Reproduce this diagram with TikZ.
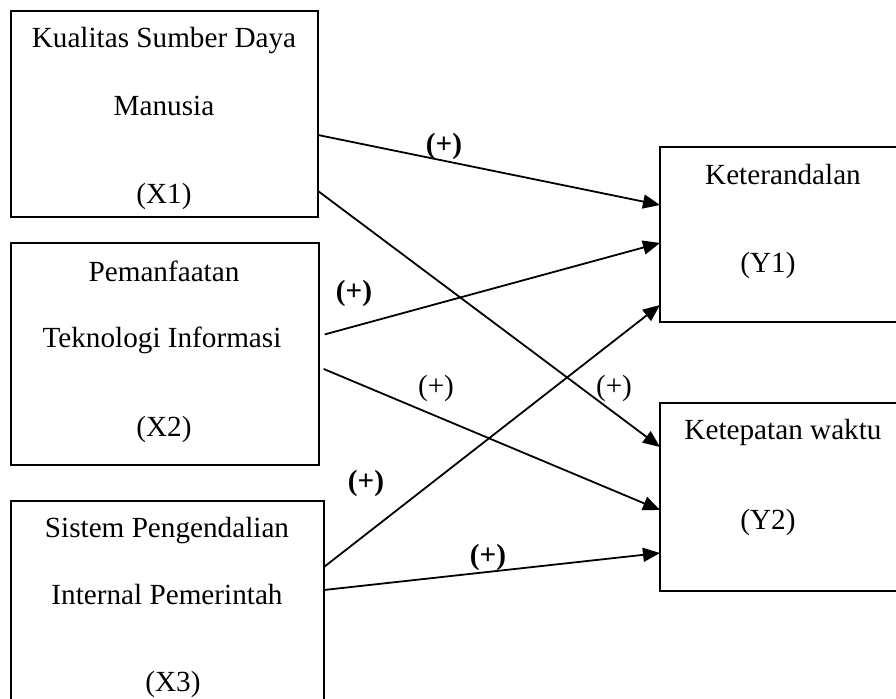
\documentclass[tikz,border=0pt]{standalone}
\usepackage{fontspec}
\setmainfont{Liberation Serif}
\usetikzlibrary{arrows.meta}
\begin{document}
\begin{tikzpicture}[x=0.5pt,y=-0.5pt,
    every node/.style={font=\fontsize{14.6}{17}\selectfont},
    box/.style={draw, line width=1.1pt, inner sep=0pt, outer sep=0pt},
    txt/.style={anchor=base, inner sep=0pt},
    link/.style={line width=0.9pt, -{Triangle[length=8.5pt,width=7pt]}},
    sign/.style={inner sep=0pt},
    signb/.style={inner sep=0pt, font=\fontsize{14.6}{17}\selectfont\bfseries}]
    \useasboundingbox (0,0) rectangle (896,699);
    % boxes
    \node[box, minimum width=153.5pt, minimum height=103pt] (x1) at (164.5,114) {};
    \node[box, minimum width=154pt, minimum height=111pt] (x2) at (165,354) {};
    \node[box, minimum width=156.5pt, minimum height=109pt] (x3) at (167.5,610) {};
    \node[box, minimum width=135pt, minimum height=87.5pt] (y1) at (795,234.5) {};
    \node[box, minimum width=135pt, minimum height=94pt] (y2) at (795,497) {};
    % box texts
    \node[txt] (x1a) at (164,48) {Kualitas Sumber Daya};
    \node[txt] (x1b) at (164,116) {Manusia};
    \node[txt] (x1c) at (164,204) {(X1)};
    \node[txt] (x2a) at (164,282) {Pemanfaatan};
    \node[txt] (x2b) at (162,348) {Teknologi Informasi};
    \node[txt] (x2c) at (164,437) {(X2)};
    \node[txt] (x3a) at (167,538) {Sistem Pengendalian};
    \node[txt] (x3b) at (167,605) {Internal Pemerintah};
    \node[txt] (x3c) at (173,692) {(X3)};
    \node[txt] (y1a) at (783,185) {Keterandalan};
    \node[txt] (y1b) at (768,273) {(Y1)};
    \node[txt] (y2a) at (783,440) {Ketepatan waktu};
    \node[txt] (y2b) at (768,530) {(Y2)};
    % links
    \draw[link] (x1.east |- 0,135) -- (y1.west |- 0,205);
    \draw[link] (x1.east |- 0,191) -- (y2.west |- 0,447);
    \draw[link, shorten <=3pt] (x2.east |- 0,336) -- (y1.west |- 0,243);
    \draw[link, shorten <=2.5pt] (x2.east |- 0,367) -- (y2.west |- 0,510);
    \draw[link] (x3.east |- 0,567) -- (y1.west |- 0,305);
    \draw[link] (x3.east |- 0,590) -- (y2.west |- 0,553);
    % signs
    \node[signb] (s1) at (444,146) {(+)};
    \node[sign] (s2) at (614,388) {(+)};
    \node[signb] (s3) at (354,293) {(+)};
    \node[sign] (s4) at (436,388) {(+)};
    \node[signb] (s5) at (366,483) {(+)};
    \node[signb] (s6) at (488,557) {(+)};
\end{tikzpicture}
\end{document}
